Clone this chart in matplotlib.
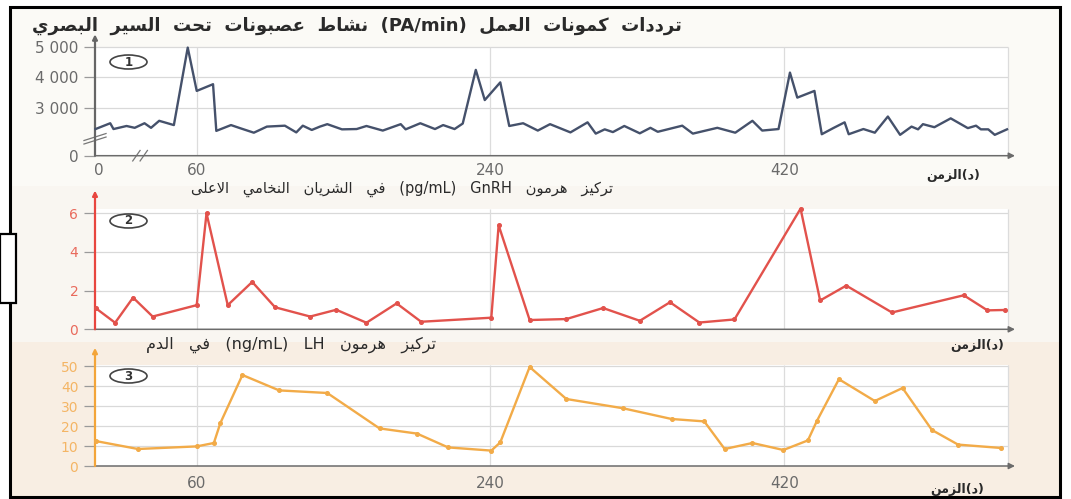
import matplotlib

matplotlib.use("Agg")

import matplotlib.pyplot as plt
from matplotlib.patches import Ellipse, Rectangle

W, H = 1071, 499

# --- data (time in minutes) ---
spike_time = [-2, 7, 9, 17, 22, 28, 32, 37, 46, 54.5, 60, 70, 72, 81, 86.5, 95, 103, 114,
              121, 125, 130.5, 135.5, 140, 149, 158, 164, 174, 185, 188, 197, 206, 211,
              218, 223, 231, 236.5, 246, 251.5, 260, 269, 276.5, 289, 299.5, 304.5, 310,
              315, 322, 331.5, 338, 342.5, 357.5, 364, 379, 390, 400.5, 406.5, 416.5,
              423.5, 428, 438.5, 443, 450, 457, 459.5, 468.5, 475.5, 483.5, 491, 498,
              502, 505, 512, 522, 532.5, 537.5, 540.5, 545, 549, 556.5]
spike_rate = [2300, 2490, 2300, 2400, 2340, 2490, 2340, 2570, 2430, 4970, 3550, 3770,
              2240, 2430, 2330, 2180, 2380, 2410, 2190, 2410, 2270, 2380, 2460, 2290,
              2300, 2400, 2250, 2460, 2290, 2490, 2300, 2430, 2300, 2480, 4240, 3250,
              3830, 2400, 2490, 2250, 2460, 2190, 2520, 2150, 2290, 2200, 2400, 2160,
              2340, 2210, 2410, 2150, 2340, 2180, 2570, 2250, 2300, 4150, 3330, 3550,
              2130, 2330, 2520, 2130, 2300, 2180, 2710, 2110, 2380, 2290, 2460, 2360,
              2650, 2330, 2410, 2290, 2290, 2110, 2290]

gnrh_time = [-2, 10, 21, 33, 60, 66, 79, 94, 108, 129.5, 145.5, 164, 182.5, 197.5, 240.5,
             245, 264, 286.5, 309, 331.5, 350, 368, 389.5, 430, 442, 458, 486, 530,
             544.5, 555.5]
gnrh_conc = [1.1, 0.34, 1.64, 0.66, 1.25, 6.0, 1.25, 2.45, 1.14, 0.66, 1.01, 0.34, 1.34,
             0.39, 0.6, 5.38, 0.48, 0.53, 1.1, 0.44, 1.4, 0.35, 0.51, 6.24, 1.49, 2.26,
             0.87, 1.76, 0.98, 1.0]

lh_time = [-2, 24, 60, 70.5, 74.5, 88, 110.5, 140, 172, 195, 214, 240.5, 246, 264, 286.5,
           321, 351, 371, 383.5, 400.5, 419.5, 434.5, 440, 453.5, 475.5, 492.5, 510.5,
           526.5, 553]
lh_conc = [12.5, 8.5, 9.8, 11.5, 21.5, 45.5, 37.8, 36.5, 18.8, 16.2, 9.3, 7.7, 11.8, 49.5,
           33.5, 28.9, 23.5, 22.3, 8.5, 11.5, 8.0, 12.8, 22.5, 43.4, 32.5, 39.0, 18.0,
           10.7, 9.0]

time_ticks = [60, 240, 420]
rate_ticks = [3000, 4000, 5000]
rate_labels = ["3 000", "4 000", "5 000"]
gnrh_ticks = [0, 2, 4, 6]
lh_ticks = [0, 10, 20, 30, 40, 50]

title_spikes = "ترددات كمونات العمل (PA/min) نشاط عصبونات تحت السير البصري"
title_gnrh = "تركيز هرمون GnRH (pg/mL) في الشريان النخامي الاعلى"
title_lh = "تركيز هرمون LH (ng/mL) في الدم"

# --- minimal Arabic shaping (presentation forms) + right-to-left ordering ---
DUAL = {"ئ": 0xFE89, "ب": 0xFE8F, "ت": 0xFE95, "ث": 0xFE99, "ج": 0xFE9D, "ح": 0xFEA1,
        "خ": 0xFEA5, "س": 0xFEB1, "ش": 0xFEB5, "ص": 0xFEB9, "ض": 0xFEBD, "ط": 0xFEC1,
        "ظ": 0xFEC5, "ع": 0xFEC9, "غ": 0xFECD, "ف": 0xFED1, "ق": 0xFED5, "ك": 0xFED9,
        "ل": 0xFEDD, "م": 0xFEE1, "ن": 0xFEE5, "ه": 0xFEE9, "ي": 0xFEF1}
RIGHT = {"آ": 0xFE81, "أ": 0xFE83, "ؤ": 0xFE85, "إ": 0xFE87, "ا": 0xFE8D, "ة": 0xFE93,
         "د": 0xFEA9, "ذ": 0xFEAB, "ر": 0xFEAD, "ز": 0xFEAF, "و": 0xFEED, "ى": 0xFEEF}
LAM_ALEF = {"آ": 0xFEF5, "أ": 0xFEF7, "إ": 0xFEF9, "ا": 0xFEFB}


def shape(word):
    out, link, i = [], False, 0
    while i < len(word):
        ch = word[i]
        nxt = word[i + 1] if i + 1 < len(word) else ""
        if ch == "ل" and nxt in LAM_ALEF:
            out.append(chr(LAM_ALEF[nxt] + (1 if link else 0)))
            link = False
            i += 2
            continue
        if ch in DUAL:
            fwd = nxt in DUAL or nxt in RIGHT
            form = (3 if fwd else 1) if link else (2 if fwd else 0)
            out.append(chr(DUAL[ch] + form))
            link = fwd
        elif ch in RIGHT:
            out.append(chr(RIGHT[ch] + (1 if link else 0)))
            link = False
        else:
            out.append(ch)
            link = False
        i += 1
    return "".join(out)


def rtl(text, gap=" "):
    tokens = []
    for tok in text.split(" "):
        if any("\u0600" <= c <= "\u06ff" for c in tok):
            tokens.append(shape(tok)[::-1])
        else:
            tokens.append(tok)
    return gap.join(reversed(tokens))


time_label = rtl("الزمن") + "(" + shape("د") + ")"

ARABIC = ["DejaVu Sans"]
TICKFONT = ["DejaVu Sans"]


def fx(x):
    return x / W


def fy(y):
    return 1 - y / H


fig = plt.figure(figsize=(W / 100, H / 100), dpi=100, facecolor="white")

# paper background inside the black frame
for y0, y1, col in [(7, 186, "#fbfaf6"), (186, 342, "#f9f6f1"), (342, 497, "#f8eee3")]:
    fig.add_artist(Rectangle((fx(10), fy(y1)), fx(1060) - fx(10), fy(y0) - fy(y1),
                             transform=fig.transFigure, facecolor=col, edgecolor="none",
                             zorder=-5))
fig.add_artist(Rectangle((fx(10), fy(497)), fx(1060) - fx(10), fy(7) - fy(497),
                         transform=fig.transFigure, facecolor="none", edgecolor="black",
                         linewidth=2.2, zorder=10))
fig.add_artist(Rectangle((fx(0), fy(303)), fx(15.5), fy(234) - fy(303),
                         transform=fig.transFigure, facecolor="white", edgecolor="black",
                         linewidth=1.6, zorder=11))

X_MIN, X_MAX, GRID_END = -2.33, 561.4, 557


def make_panel(top_px, bottom_px, ylim, grid_vals, grid_top, axis_color, tick_color,
               line_color, times, values, yticks, ylabels, markers, tick_size):
    ax = fig.add_axes([fx(95), fy(bottom_px), fx(1015) - fx(95), fy(top_px) - fy(bottom_px)])
    ax.set_facecolor("none")
    ax.set_xlim(X_MIN, X_MAX)
    ax.set_ylim(*ylim)
    ax.add_patch(Rectangle((X_MIN, ylim[0]), GRID_END - X_MIN, grid_top - ylim[0],
                           facecolor="white", edgecolor="none", zorder=0))
    ax.hlines(grid_vals, X_MIN, GRID_END, color="#d9d9d9", linewidth=0.9, zorder=1)
    ax.vlines(time_ticks + [GRID_END], ylim[0], grid_top, color="#dcdcdc", linewidth=0.9,
              zorder=1)
    for side in ax.spines.values():
        side.set_visible(False)
    ax.annotate("", xy=(1, 0), xytext=(0, 0), xycoords="axes fraction",
                arrowprops=dict(arrowstyle="-|>", color="#6b6b6b", lw=1.1,
                                mutation_scale=9, shrinkA=0, shrinkB=0))
    ax.annotate("", xy=(0, 1.04), xytext=(0, 0), xycoords="axes fraction",
                arrowprops=dict(arrowstyle="-|>", color=axis_color, lw=1.6,
                                mutation_scale=7, shrinkA=0, shrinkB=0))
    ax.plot(times, values, color=line_color, linewidth=1.7,
            marker="o" if markers else None, markersize=2.6, zorder=3, clip_on=False)
    ax.set_yticks(yticks)
    ax.set_yticklabels(ylabels, fontfamily=TICKFONT)
    ax.tick_params(axis="y", length=8, width=0.9, color="#9a9a9a", labelcolor=tick_color,
                   labelsize=tick_size, pad=4)
    return ax


ax1 = make_panel(39, 155.7, (1426, 5252), rate_ticks, 5000, "#666666", "#6a6a6a",
                 "#45516b", spike_time, spike_rate, [1426] + rate_ticks, ["0"] + rate_labels,
                 False, 11)
ax1.set_xticks([0] + time_ticks)
ax1.set_xticklabels(["0"] + [str(t) for t in time_ticks], fontfamily=TICKFONT)
ax1.tick_params(axis="x", length=0, labelsize=11, labelcolor="#6a6a6a", pad=5)
# axis break marks
for xa, ya in [(-0.012, 0.13), (-0.012, 0.16)]:
    ax1.plot([xa, xa + 0.024], [ya - 0.03, ya + 0.03], transform=ax1.transAxes,
             color="#777777", linewidth=0.9, clip_on=False)
for xa in [0.045, 0.053]:
    ax1.plot([xa - 0.004, xa + 0.004], [-0.045, 0.045], transform=ax1.transAxes,
             color="#777777", linewidth=0.9, clip_on=False)

ax2 = make_panel(195.9, 329.3, (0, 6.9), gnrh_ticks[1:], 6.2, "#e8463f", "#e96a5c",
                 "#e2524c", gnrh_time, gnrh_conc, gnrh_ticks, [str(v) for v in gnrh_ticks],
                 True, 10)
ax2.set_xticks([])

ax3 = make_panel(352.4, 466, (0, 56.8), lh_ticks[1:], 50.5, "#f3a53a", "#f4b565",
                 "#f2ab48", lh_time, lh_conc, lh_ticks, [str(v) for v in lh_ticks], True, 10)
ax3.set_xticks(time_ticks)
ax3.set_xticklabels([str(t) for t in time_ticks], fontfamily=TICKFONT)
ax3.tick_params(axis="x", length=0, labelsize=11, labelcolor="#6a6a6a", pad=7)

# titles and time labels
fig.text(fx(682), fy(26), rtl(title_spikes, "  "), ha="right", va="center", fontsize=13,
         fontweight="bold", family=ARABIC, color="#2a2a2a")
fig.text(fx(613), fy(188.5), rtl(title_gnrh, "   "), ha="right", va="center", fontsize=10.5,
         family=ARABIC, color="#2a2a2a")
fig.text(fx(436), fy(345), rtl(title_lh, "   "), ha="right", va="center", fontsize=11.5,
         family=ARABIC, color="#2a2a2a")
for xc, yc in [(953, 175), (977, 345), (957, 489)]:
    fig.text(fx(xc), fy(yc), time_label, ha="center", va="center", fontsize=9,
             fontweight="bold", family=ARABIC, color="#2a2a2a")

# circled panel numbers
for num, yc in [("1", 62), ("2", 221), ("3", 376)]:
    fig.add_artist(Ellipse((fx(128.5), fy(yc)), fx(37), 14 / H, transform=fig.transFigure,
                           facecolor="white", edgecolor="#444444", linewidth=1.2, zorder=6))
    fig.text(fx(128.5), fy(yc), num, ha="center", va="center", fontsize=8.5,
             fontweight="bold", color="#333333", zorder=7)

fig.savefig("out.png", dpi=100, facecolor=fig.get_facecolor())
